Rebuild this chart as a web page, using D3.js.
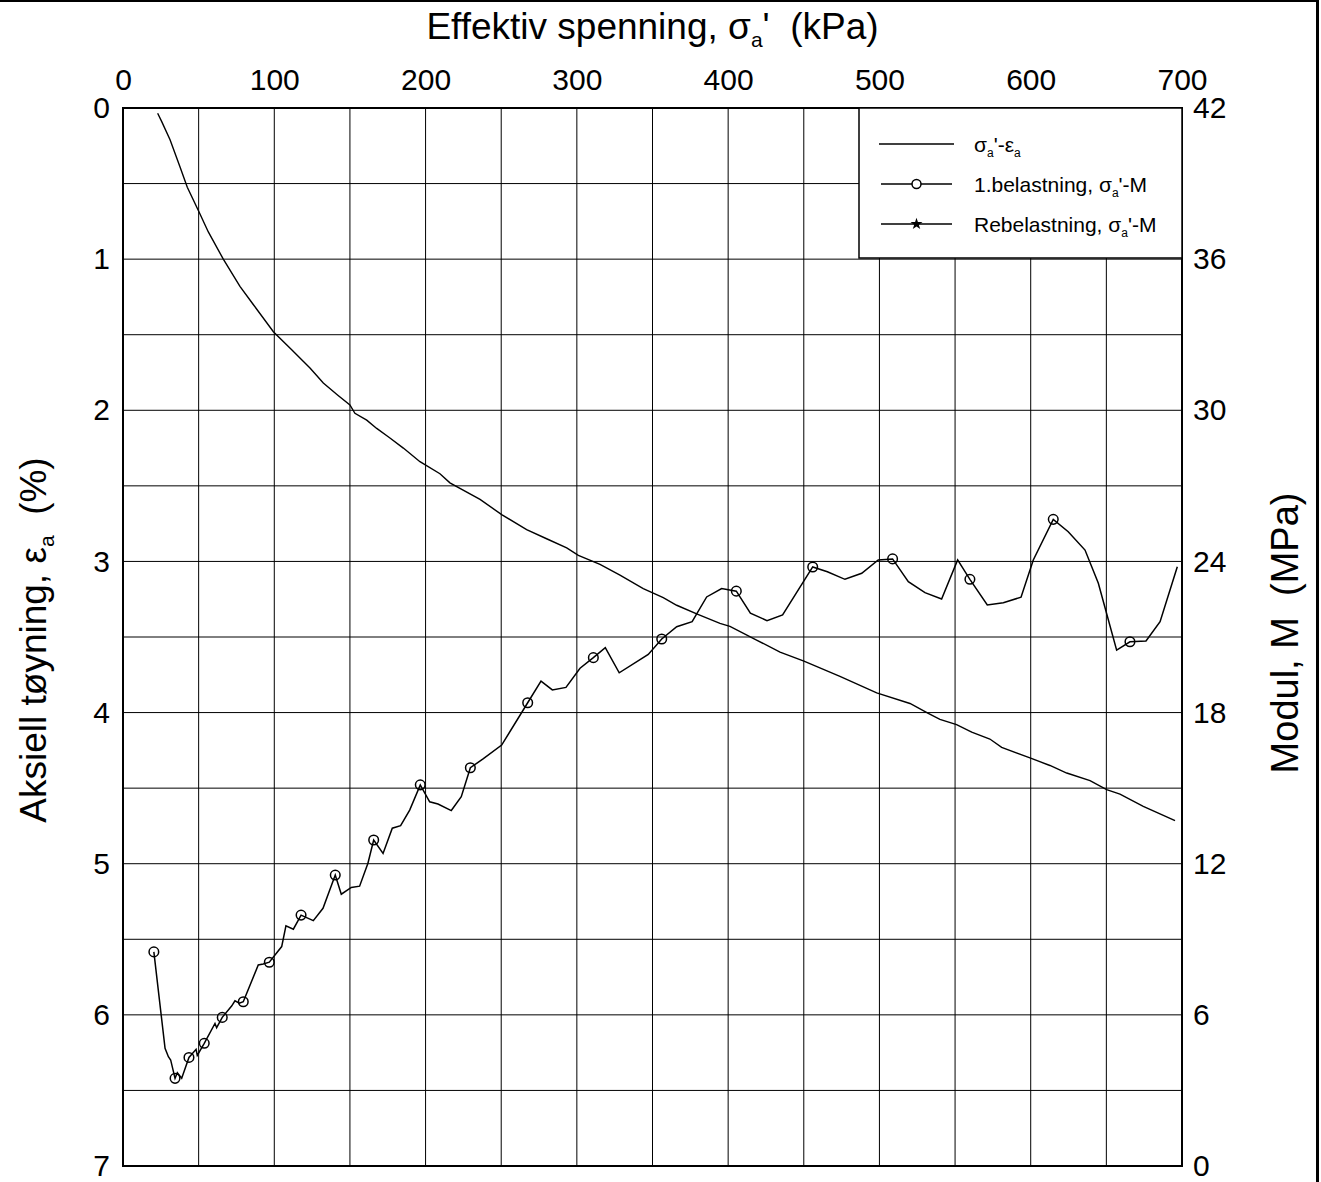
<!DOCTYPE html>
<html>
<head>
<meta charset="utf-8">
<script src="https://cdn.jsdelivr.net/npm/d3@7"></script>
<style>
  body { margin: 0; background: #fff; }
  svg { display: block; }
  text { font-family: Arial, "Liberation Sans", sans-serif; fill: #000; }
</style>
</head>
<body>
<svg id="chart" width="1321" height="1182"></svg>
<script>
// Tick values
const stressTicks = [0, 100, 200, 300, 400, 500, 600, 700];
const strainTicks = [0, 1, 2, 3, 4, 5, 6, 7];
const modulusTicks = [0, 6, 12, 18, 24, 30, 36, 42];

// Stress–strain curve (kPa, %)
const curveStress = [22.9, 25.6, 31.1, 37.7, 42.5, 50.2, 56.4, 66.3, 77.3, 86.1, 99.4, 111.5, 123.6, 132.4, 142, 150, 153.3, 161.1, 167.7, 176, 185.3, 196.3, 209.5, 216.1, 236, 250.3, 266.8, 280, 293.3, 301, 315.3, 328.5, 343.9, 357.1, 366, 380, 394.6, 401.2, 418.8, 434.3, 450.1, 473.9, 498.2, 520.2, 532.3, 540, 551, 561, 573, 580.8, 599.5, 612.7, 623.8, 639.2, 650.2, 659, 674.4, 695.4];
const curveStrain = [0.035, 0.09, 0.21, 0.39, 0.525, 0.686, 0.82, 1.00, 1.18, 1.30, 1.48, 1.60, 1.72, 1.82, 1.90, 1.965, 2.02, 2.065, 2.12, 2.18, 2.25, 2.34, 2.42, 2.48, 2.59, 2.69, 2.79, 2.85, 2.91, 2.96, 3.02, 3.09, 3.18, 3.24, 3.29, 3.35, 3.41, 3.43, 3.52, 3.60, 3.66, 3.76, 3.87, 3.94, 4.005, 4.045, 4.08, 4.13, 4.175, 4.23, 4.30, 4.35, 4.40, 4.45, 4.51, 4.54, 4.62, 4.715];

// First loading: stress (kPa) vs modulus (MPa)
const loadStress = [20.4, 27.8, 30.0, 31.5, 34.4, 35.9, 38.8, 43.6, 48.3, 49.1, 53.7, 60.8, 61.9, 65.6, 71.8, 74.0, 76.9, 79.5, 89.4, 92.7, 96.7, 104.9, 107.7, 112.6, 117.7, 125.8, 132.2, 140.3, 144.3, 150.9, 156.4, 161.9, 165.7, 171.9, 178.0, 183.5, 189.5, 196.5, 202.7, 208.2, 217.0, 223.6, 229.6, 238.0, 250.3, 267.5, 276.3, 283.8, 292.8, 302.1, 310.9, 318.8, 328.0, 347.2, 356.1, 366.0, 376.2, 385.8, 395.7, 405.4, 414.7, 425.7, 436.0, 455.9, 465.6, 477.2, 488.3, 499.2, 508.7, 519.1, 530.1, 541.1, 551.7, 559.8, 571.3, 581.9, 593.6, 601.7, 614.9, 624.8, 635.9, 644.7, 656.8, 665.6, 676.2, 685.5, 696.9];
const loadModulus = [8.50, 4.67, 4.34, 4.21, 3.48, 3.70, 3.48, 4.31, 4.63, 4.39, 4.87, 5.66, 5.49, 5.90, 6.35, 6.56, 6.46, 6.52, 7.98, 8.02, 8.09, 8.71, 9.53, 9.40, 9.96, 9.74, 10.23, 11.55, 10.79, 11.06, 11.11, 12.02, 12.94, 12.41, 13.41, 13.51, 14.13, 15.13, 14.46, 14.37, 14.11, 14.66, 15.81, 16.16, 16.71, 18.39, 19.25, 18.90, 19.00, 19.76, 20.18, 20.58, 19.58, 20.31, 20.92, 21.41, 21.61, 22.59, 22.92, 22.82, 21.95, 21.65, 21.88, 23.78, 23.59, 23.29, 23.53, 24.06, 24.10, 23.20, 22.76, 22.51, 24.06, 23.29, 22.27, 22.36, 22.58, 24.06, 25.67, 25.18, 24.45, 23.13, 20.48, 20.81, 20.84, 21.61, 23.79];
// Points of the first-loading series that carry a circle marker
const loadMarkers = [0, 4, 7, 10, 13, 17, 20, 24, 27, 32, 37, 42, 45, 50, 54, 59, 63, 68, 73, 78, 83];

const svg = d3.select("#chart");
const L = 123, R = 1182, T = 108, B = 1166;

const x = d3.scaleLinear().domain([0, 700]).range([L, R]);
const yStrain = d3.scaleLinear().domain([0, 7]).range([T, B]);
const yMod = d3.scaleLinear().domain([0, 42]).range([B, T]);

// outer frame (top and right edges)
svg.append("line").attr("x1", 0).attr("x2", 1318).attr("y1", 1).attr("y2", 1)
  .attr("stroke", "#000").attr("stroke-width", 2);
svg.append("line").attr("x1", 1317.5).attr("x2", 1317.5).attr("y1", 0).attr("y2", 1182)
  .attr("stroke", "#000").attr("stroke-width", 3);

// grid
const grid = svg.append("g").attr("stroke", "#000").attr("stroke-width", 1);
d3.range(50, 700, 50).forEach(v => {
  grid.append("line").attr("x1", x(v)).attr("x2", x(v)).attr("y1", T).attr("y2", B);
});
d3.range(0.5, 7, 0.5).forEach(v => {
  grid.append("line").attr("x1", L).attr("x2", R).attr("y1", yStrain(v)).attr("y2", yStrain(v));
});

// axes (labels only)
function styleAxis(g) {
  g.select(".domain").remove();
  g.selectAll(".tick line").remove();
  g.selectAll("text").attr("font-size", 30).attr("font-family", "Arial, 'Liberation Sans', sans-serif").attr("fill", "#000");
}
svg.append("g").attr("transform", `translate(0,${T})`)
  .call(d3.axisTop(x).tickValues(stressTicks).tickSize(0).tickPadding(18).tickFormat(d3.format("d")))
  .call(styleAxis);
svg.append("g").attr("transform", `translate(${L},0)`)
  .call(d3.axisLeft(yStrain).tickValues(strainTicks).tickSize(0).tickPadding(13).tickFormat(d3.format("d")))
  .call(styleAxis);
svg.append("g").attr("transform", `translate(${R},0)`)
  .call(d3.axisRight(yMod).tickValues(modulusTicks).tickSize(0).tickPadding(11).tickFormat(d3.format("d")))
  .call(styleAxis);

// rich text helper: segments with optional subscript
function rich(sel, parts, size) {
  let shift = 0;
  parts.forEach(p => {
    const t = sel.append("tspan").text(p.t);
    if (p.sub) {
      const s = Math.round(size * 0.58);
      t.attr("font-size", s).attr("dy", size * 0.22 - shift);
      shift = size * 0.22;
    } else {
      t.attr("font-size", size);
      if (shift) { t.attr("dy", -shift); shift = 0; }
    }
  });
  return sel;
}

// axis titles
const titleSize = 37;
rich(svg.append("text").attr("x", (L + R) / 2).attr("y", 39).attr("text-anchor", "middle")
  .style("white-space", "pre"),
  [{ t: "Effektiv spenning, σ" }, { t: "a", sub: true }, { t: "'  (kPa)" }], titleSize);

rich(svg.append("text").attr("transform", `translate(46,${(T + B) / 2 + 3}) rotate(-90)`)
  .attr("text-anchor", "middle").style("white-space", "pre"),
  [{ t: "Aksiell tøyning, ε" }, { t: "a", sub: true }, { t: "  (%)" }], titleSize);

svg.append("text").attr("transform", `translate(1298,${(T + B) / 2 - 4}) rotate(-90)`)
  .attr("text-anchor", "middle").style("white-space", "pre").attr("font-size", 38)
  .text("Modul, M  (MPa)");

// data lines
const plot = svg.append("g");
const strainLine = d3.line().x(i => x(curveStress[i])).y(i => yStrain(curveStrain[i]));
plot.append("path").attr("d", strainLine(d3.range(curveStress.length)))
  .attr("fill", "none").attr("stroke", "#000").attr("stroke-width", 1.4);

const modLine = d3.line().x(i => x(loadStress[i])).y(i => yMod(loadModulus[i]));
plot.append("path").attr("d", modLine(d3.range(loadStress.length)))
  .attr("fill", "none").attr("stroke", "#000").attr("stroke-width", 1.5);

plot.selectAll("circle.m").data(loadMarkers).join("circle").attr("class", "m")
  .attr("cx", i => x(loadStress[i])).attr("cy", i => yMod(loadModulus[i])).attr("r", 4.8)
  .attr("fill", "none").attr("stroke", "#000").attr("stroke-width", 1.5);

// plot border
svg.append("rect").attr("x", L).attr("y", T).attr("width", R - L).attr("height", B - T)
  .attr("fill", "none").attr("stroke", "#000").attr("stroke-width", 2);

// legend
const lg = svg.append("g");
lg.append("rect").attr("x", 859).attr("y", T).attr("width", R - 859).attr("height", 150)
  .attr("fill", "#fff").attr("stroke", "#000").attr("stroke-width", 1.5);
const legendSize = 21;
const rows = [
  { y: 144, marker: null, parts: [{ t: "σ" }, { t: "a", sub: true }, { t: "'-ε" }, { t: "a", sub: true }] },
  { y: 184, marker: "circle", parts: [{ t: "1.belastning, σ" }, { t: "a", sub: true }, { t: "'-M" }] },
  { y: 224, marker: "star", parts: [{ t: "Rebelastning, σ" }, { t: "a", sub: true }, { t: "'-M" }] }
];
rows.forEach(r => {
  lg.append("line").attr("x1", r.marker ? 881 : 879).attr("x2", r.marker ? 952 : 954)
    .attr("y1", r.y).attr("y2", r.y).attr("stroke", "#000").attr("stroke-width", 1.3);
  if (r.marker === "circle") {
    lg.append("circle").attr("cx", 916.5).attr("cy", r.y).attr("r", 4.5)
      .attr("fill", "#fff").attr("stroke", "#000").attr("stroke-width", 1.5);
  } else if (r.marker === "star") {
    lg.append("path").attr("d", d3.symbol(d3.symbolStar, 45)())
      .attr("transform", `translate(916.5,${r.y})`).attr("fill", "#000");
  }
  rich(lg.append("text").attr("x", 974).attr("y", r.y + 8), r.parts, legendSize);
});
</script>
</body>
</html>
